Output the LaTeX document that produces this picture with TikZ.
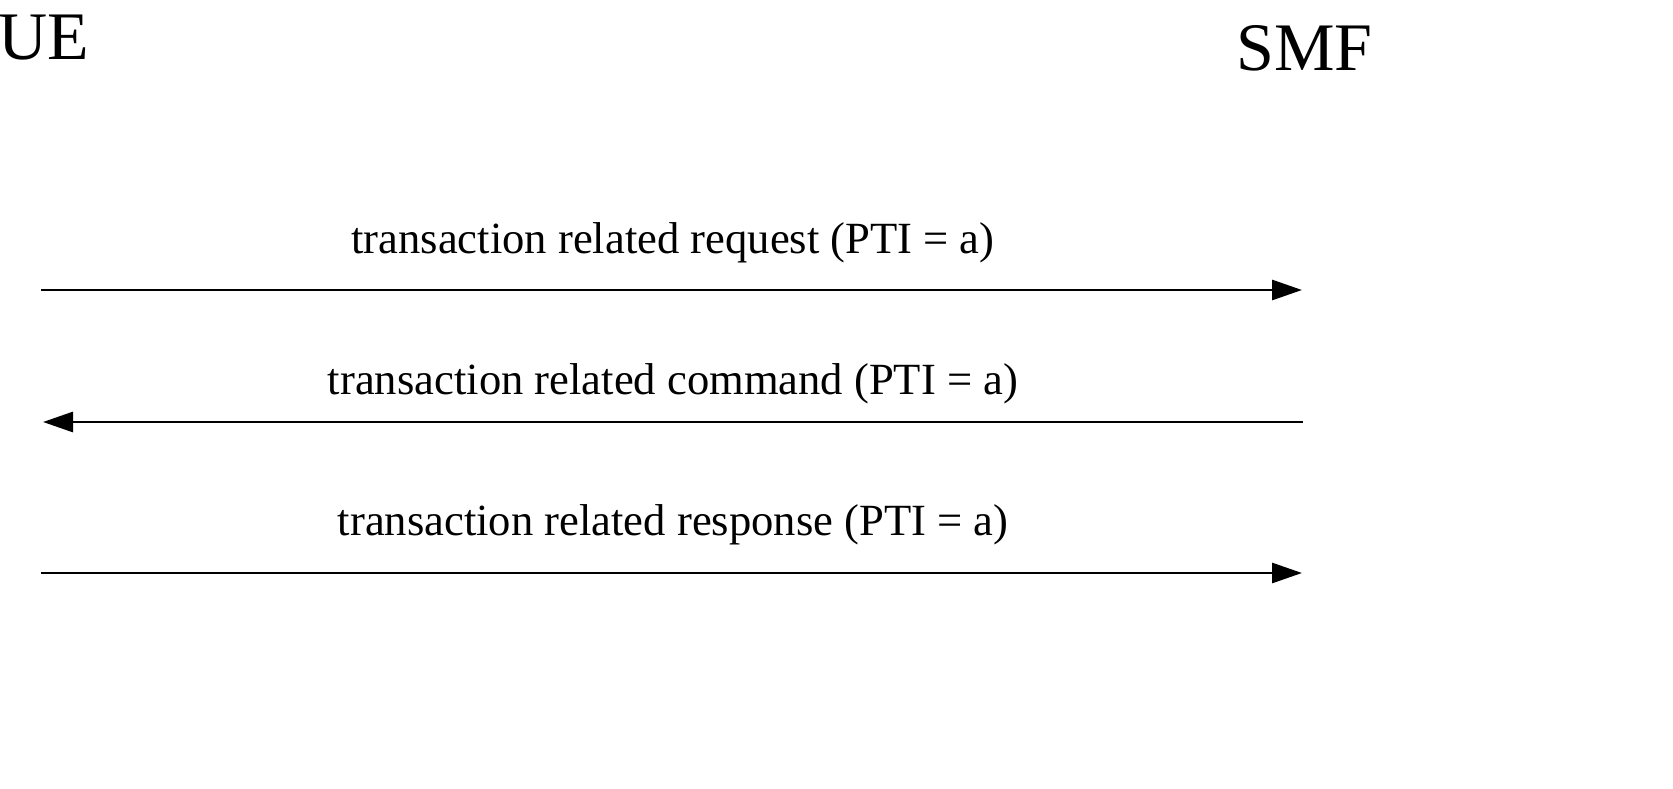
\documentclass[tikz,border=0pt]{standalone}
\usepackage{fontspec}
\setmainfont{Liberation Serif}
\usetikzlibrary{arrows.meta,positioning}

\begin{document}
\begin{tikzpicture}[
  x=1pt, y=-1pt,
  >={Triangle[length=30pt,width=20pt]},
  party/.style ={inner sep=0pt,anchor=base west,font=\fontsize{68}{76}\selectfont},
  msglabel/.style={inner sep=0pt,anchor=base,font=\fontsize{44.6}{52}\selectfont},
  msg/.style   ={->,line width=2.9pt}
]
\useasboundingbox (0,0) rectangle (1673,789);

% ==================================================
% PARTIES
% ==================================================
\node[party] (ue)  at (-2,60)   {UE};
\node[party] (smf) at (1236,71) {SMF};

% message end points
\coordinate (ue-req)  at (41,290);   \coordinate (smf-req) at (1302,290);
\coordinate (ue-cmd)  at (43,422);   \coordinate (smf-cmd) at (1303,422);
\coordinate (ue-rsp)  at (41,573);   \coordinate (smf-rsp) at (1302,573);

% ==================================================
% MESSAGES
% ==================================================
\draw[msg] (ue-req) -- (smf-req);
\node[msglabel] (req) at (673,253) {transaction related request (PTI = a)};

\draw[msg] (smf-cmd) -- (ue-cmd);
\node[msglabel] (cmd) at (673,394) {transaction related command (PTI = a)};

\draw[msg] (ue-rsp) -- (smf-rsp);
\node[msglabel] (rsp) at (673,535) {transaction related response (PTI = a)};

\end{tikzpicture}
\end{document}
